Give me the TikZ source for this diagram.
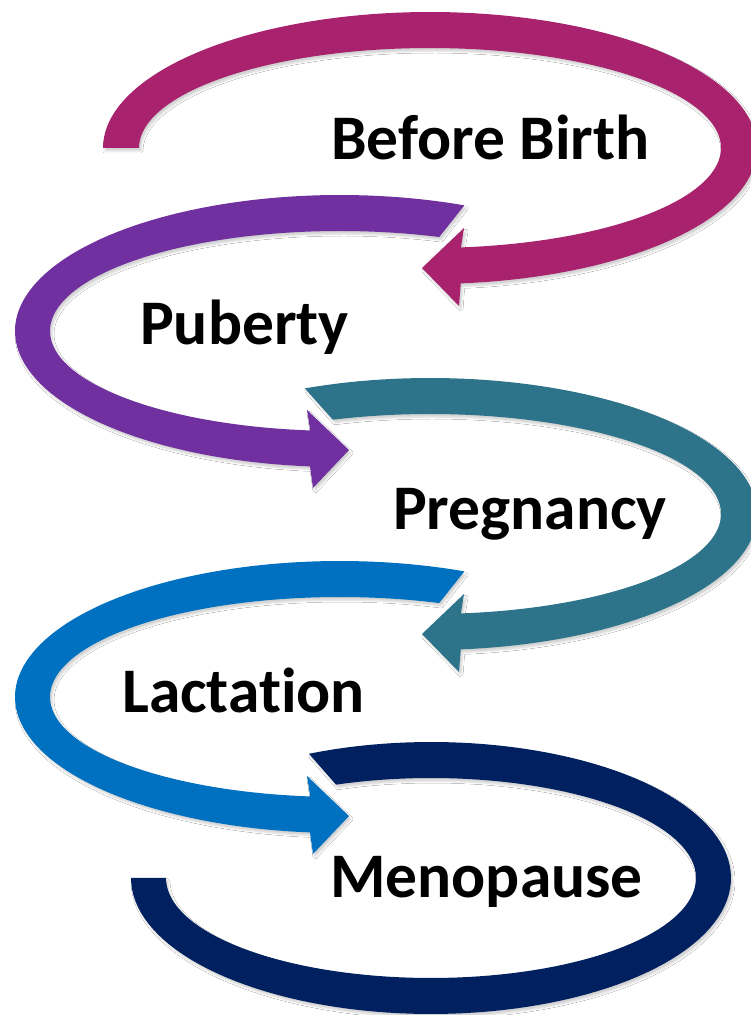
\documentclass[tikz,border=0pt]{standalone}
\usepackage{fontspec}
\setmainfont[Ligatures=NoCommon]{Carlito}
\usetikzlibrary{shadows.blur}
\definecolor{cMag}{HTML}{A8226E}
\definecolor{cPur}{HTML}{7030A0}
\definecolor{cTeal}{HTML}{2D748B}
\definecolor{cBlue}{HTML}{0070C0}
\definecolor{cNavy}{HTML}{002060}
\tikzset{
  band/.style={blur shadow={shadow xshift=2pt,shadow yshift=-3pt,shadow blur radius=2pt,shadow opacity=18}},
  lbl/.style={anchor=base west,inner sep=0pt,font=\fontsize{63.5}{63.5}\selectfont\bfseries},
}
\begin{document}
\begin{tikzpicture}[x=1pt,y=1pt]
\useasboundingbox[fill=white] (0,0) rectangle (750,1015);
% Before Birth (magenta)
\fill[cMag,band] plot[domain=180:-84.6,samples=120,variable=\t] ({430+327*cos(\t)},{867+136*sin(\t)})
  -- (459,709) -- (422,747) -- (464,787)
  -- plot[domain=-83.9:180,samples=120,variable=\t] ({430+291*cos(\t)},{867+100*sin(\t)}) -- cycle;
% Puberty (purple)
\fill[cPur,band] plot[domain=67.5:264.7,samples=100,variable=\t] ({340+325*cos(\t)},{684+136*sin(\t)})
  -- (313,527) -- (349,565) -- (307,605)
  -- plot[domain=264.1:70,samples=100,variable=\t] ({340+290*cos(\t)},{684+100*sin(\t)}) -- cycle;
% Pregnancy (teal)
\fill[cTeal,band] plot[domain=112.5:-84.6,samples=100,variable=\t] ({430+327*cos(\t)},{501+136*sin(\t)})
  -- (459,343) -- (422,381) -- (464,421)
  -- plot[domain=-83.9:109.5,samples=100,variable=\t] ({430+291*cos(\t)},{501+100*sin(\t)}) -- cycle;
% Lactation (blue)
\fill[cBlue,band] plot[domain=67.5:264.7,samples=100,variable=\t] ({340+325*cos(\t)},{318+136*sin(\t)})
  -- (313,161) -- (349,199) -- (307,239)
  -- plot[domain=264.1:70,samples=100,variable=\t] ({340+290*cos(\t)},{318+100*sin(\t)}) -- cycle;
% Menopause (navy)
\fill[cNavy,band] plot[domain=114:-180,samples=120,variable=\t] ({431+300*cos(\t)},{137+136*sin(\t)})
  -- plot[domain=-180:111,samples=120,variable=\t] ({431+265*cos(\t)},{137+100*sin(\t)}) -- cycle;
% labels
\node[lbl] (before) at (331,855) {Before Birth};
\node[lbl] (puberty) at (140,670) {Puberty};
\node[lbl] (pregnancy) at (393,485) {Pregnancy};
\node[lbl] (lactation) at (122,302) {Lactation};
\node[lbl] (menopause) at (330,117) {Menopause};
\end{tikzpicture}
\end{document}
